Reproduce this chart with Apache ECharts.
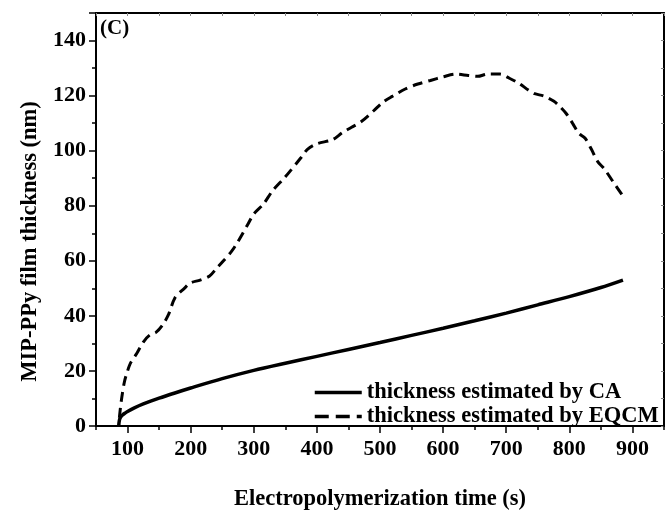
<!DOCTYPE html>
<html>
<head>
<meta charset="utf-8">
<script src="https://cdn.jsdelivr.net/npm/echarts@6/dist/echarts.min.js"></script>
<style>html,body{margin:0;padding:0;background:#fff}#c{width:666px;height:516px}</style>
</head>
<body>
<div id="c"></div>
<script>
const xTickLabels = [100, 200, 300, 400, 500, 600, 700, 800, 900];
const yTickLabels = [0, 20, 40, 60, 80, 100, 120, 140];
const seriesNames = ['thickness estimated by CA', 'thickness estimated by EQCM'];

const timeCA = [86, 87, 89, 92, 96, 100, 110, 125, 150, 175, 200, 250, 300, 350, 400, 450, 500, 550, 600, 650, 700, 750, 800, 850, 885];
const thickCA = [0, 2.0, 3.2, 4.0, 4.7, 5.3, 6.5, 8.0, 10.1, 12.0, 13.8, 17.2, 20.2, 22.8, 25.3, 27.8, 30.3, 32.9, 35.5, 38.2, 41.0, 44.0, 47.0, 50.3, 53.0];

const timeEQCM = [87, 90, 95, 100, 105, 115, 125, 135, 145, 155, 165, 175, 190, 200, 215, 230, 240, 252, 265, 275, 290, 300, 315, 330, 350, 375, 385, 400, 425, 440, 455, 470, 490, 505, 520, 540, 560, 580, 600, 620, 640, 655, 670, 690, 705, 720, 735, 745, 760, 775, 785, 795, 805, 815, 825, 835, 845, 855, 870, 885];
const thickEQCM = [3, 9, 16, 20, 23, 26.5, 30.5, 33, 34, 36.5, 40.5, 46.5, 50, 52, 53, 54.5, 57, 60, 63.5, 67, 73, 77, 80.5, 85.5, 90.5, 97.5, 100.5, 102.5, 104, 106.5, 108.5, 110.5, 114.5, 117.7, 119.8, 122.4, 124.2, 125.5, 126.8, 127.8, 127.3, 127, 127.8, 127.8, 126.3, 124.5, 122, 120.7, 119.8, 118, 116, 113.5, 110, 106.3, 104.5, 100.5, 96, 93.5, 88.5, 83.5];

const FONT = 'Liberation Serif';
const pair = (xs, ys) => xs.map((x, i) => [x, ys[i]]);

const chart = echarts.init(document.getElementById('c'), null, {renderer: 'canvas'});
const axisLineStyle = {color: '#000', width: 2};
chart.setOption({
  animation: false,
  backgroundColor: '#fff',
  grid: {left: 96, right: 2, top: 13, bottom: 84, containLabel: false},
  xAxis: [
    {
      type: 'value', min: 50, max: 950, interval: 50, position: 'bottom',
      axisLine: {show: true, onZero: false, lineStyle: axisLineStyle},
      axisTick: {show: true, inside: false, length: 4, lineStyle: {color: '#000', width: 1.5}},
      axisLabel: {show: false},
      splitLine: {show: false},
      name: 'Electropolymerization time (s)', nameLocation: 'middle', nameGap: 62,
      nameTextStyle: {fontFamily: FONT, fontWeight: 'bold', fontSize: 22.5, color: '#000'}
    },
    {
      type: 'value', min: 50, max: 950, position: 'bottom',
      axisLine: {show: false, onZero: false},
      axisTick: {show: true, inside: false, length: 7, customValues: xTickLabels, lineStyle: {color: '#000', width: 1.5}},
      axisLabel: {show: true, customValues: xTickLabels, margin: 12, fontFamily: FONT, fontWeight: 'bold', fontSize: 22, color: '#000'},
      splitLine: {show: false}
    },
    {
      type: 'value', min: 50, max: 950, interval: 50, position: 'top',
      axisLine: {show: true, onZero: false, lineStyle: axisLineStyle},
      axisTick: {show: true, inside: true, length: 3, lineStyle: {color: '#888', width: 1}},
      axisLabel: {show: false}, splitLine: {show: false}
    }
  ],
  yAxis: [
    {
      type: 'value', min: 0, max: 150, interval: 20, position: 'left',
      axisLine: {show: true, onZero: false, lineStyle: axisLineStyle},
      axisTick: {show: true, inside: false, length: 7, lineStyle: {color: '#000', width: 1.5}},
      minorTick: {show: true, splitNumber: 2, length: 4, lineStyle: {color: '#000', width: 1.5}},
      axisLabel: {show: true, showMaxLabel: false, margin: 10, fontFamily: FONT, fontWeight: 'bold', fontSize: 22, color: '#000',
        formatter: v => (yTickLabels.indexOf(v) >= 0 ? String(v) : '')},
      splitLine: {show: false}, minorSplitLine: {show: false},
      name: 'MIP-PPy film thickness (nm)', nameLocation: 'middle', nameGap: 53,
      nameTextStyle: {fontFamily: FONT, fontWeight: 'bold', fontSize: 22.5, color: '#000', padding: [0, 44, 0, 0]}
    },
    {
      type: 'value', min: 0, max: 150, interval: 10, position: 'right',
      axisLine: {show: true, onZero: false, lineStyle: axisLineStyle},
      axisTick: {show: true, inside: true, length: 3, lineStyle: {color: '#888', width: 1}},
      axisLabel: {show: false}, splitLine: {show: false}
    }
  ],
  legend: {
    orient: 'vertical', left: 313, top: 381, padding: 0,
    itemWidth: 47, itemHeight: 14, itemGap: 1,
    itemStyle: {opacity: 0},
    textStyle: {fontFamily: FONT, fontWeight: 'bold', fontSize: 22.5, color: '#000'},
    data: [
      {name: seriesNames[0], lineStyle: {type: 'solid', width: 3.5, color: '#000'}},
      {name: seriesNames[1], lineStyle: {type: 'dashed', width: 3.5, color: '#000'}}
    ]
  },
  graphic: [
    {type: 'text', left: 100, top: 18, style: {text: '(C)', fontFamily: FONT, fontWeight: 'bold', fontSize: 21, fill: '#000'}}
  ],
  series: [
    {
      name: seriesNames[0], type: 'line', xAxisIndex: 0, yAxisIndex: 0,
      data: pair(timeCA, thickCA), symbol: 'none', smooth: 0.3,
      lineStyle: {color: '#000', width: 3.5, type: 'solid'}, itemStyle: {color: '#000'}
    },
    {
      name: seriesNames[1], type: 'line', xAxisIndex: 0, yAxisIndex: 0,
      data: pair(timeEQCM, thickEQCM), symbol: 'none', smooth: 0.3,
      lineStyle: {color: '#000', width: 3, type: [10, 6]}, itemStyle: {color: '#000'}
    }
  ]
});
</script>
</body>
</html>
